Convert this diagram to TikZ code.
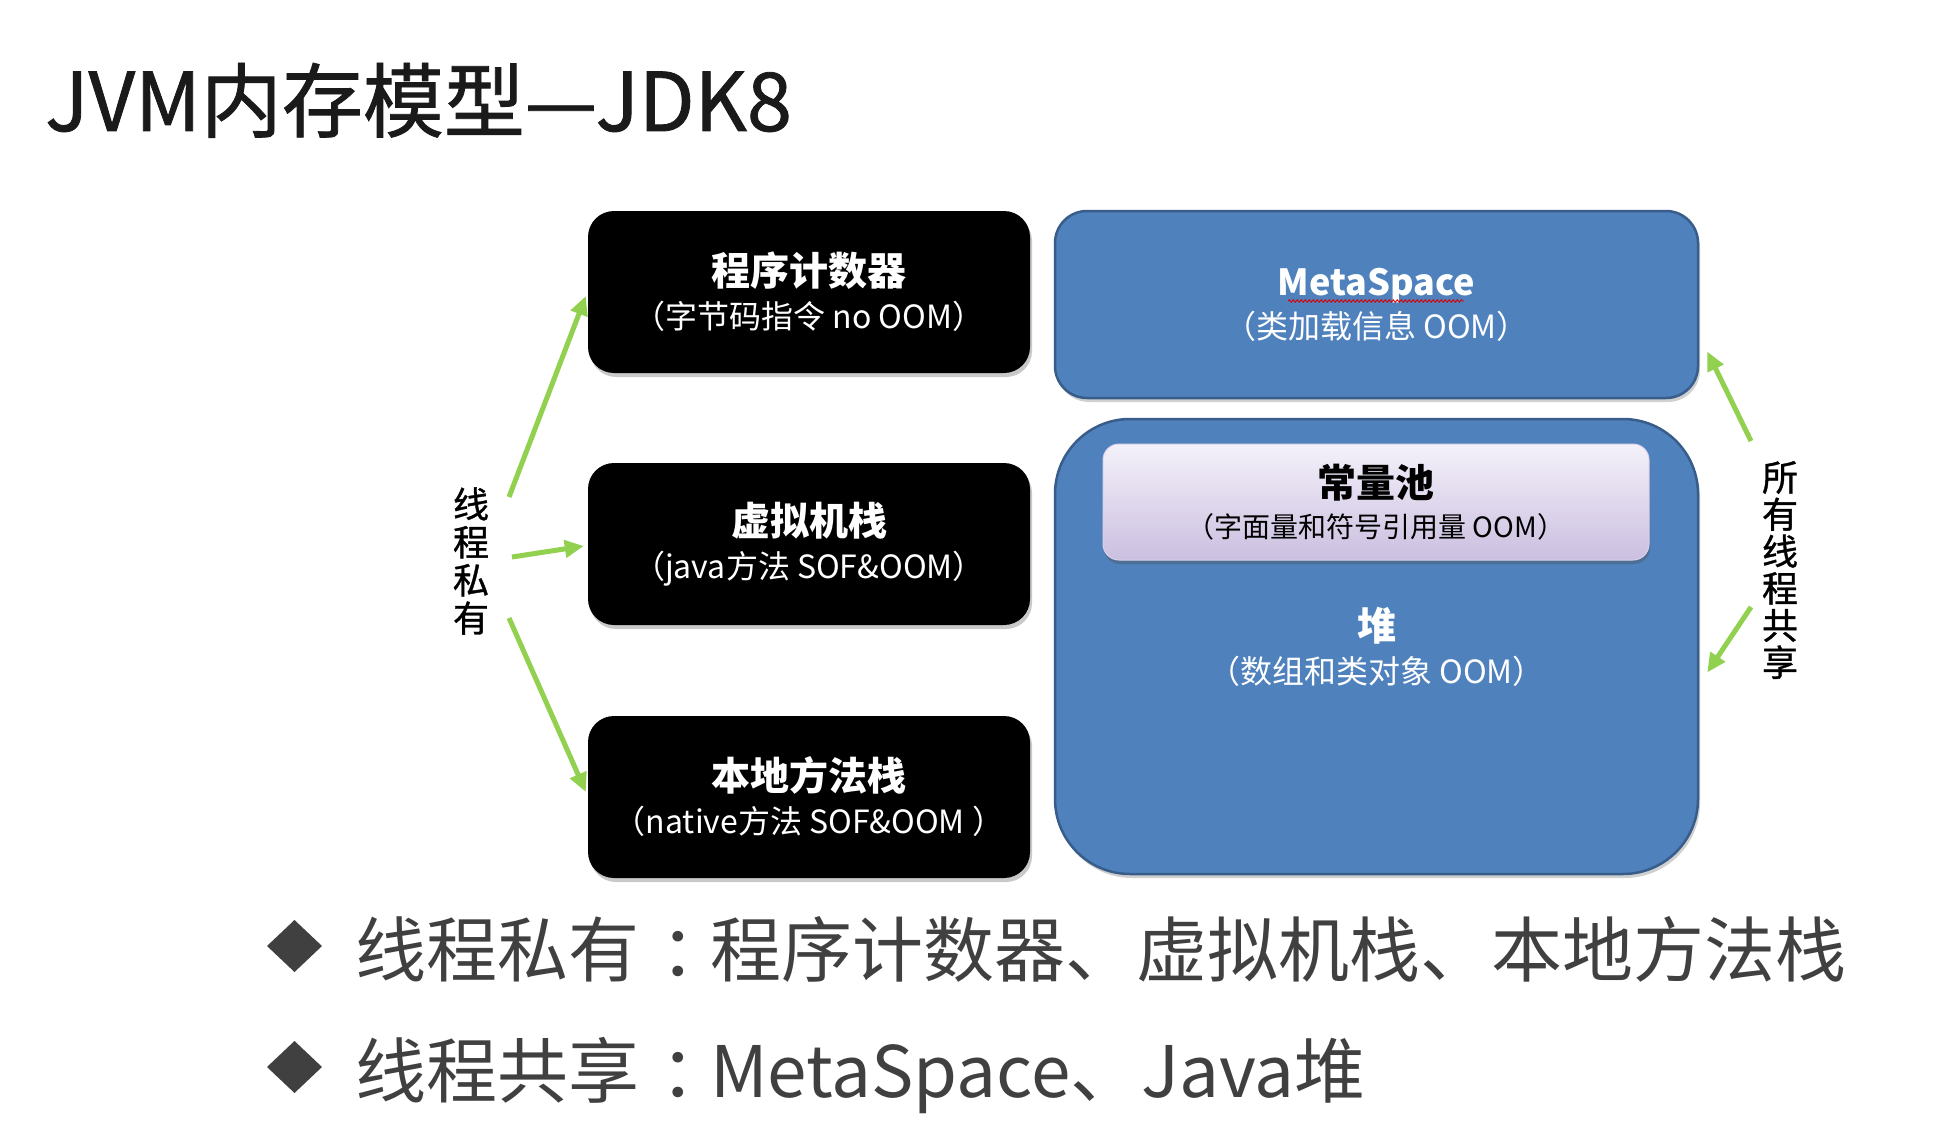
\documentclass[tikz,border=0pt]{standalone}
\usepackage{fontspec}
\setmainfont{Noto Sans CJK SC}
\newfontfamily\medfont{Noto Sans CJK SC}[FakeBold=1]
\usetikzlibrary{arrows.meta,shadows,decorations.pathmorphing,calc}
\definecolor{ttl}{HTML}{1A1A1A}
\definecolor{bul}{HTML}{404040}
\definecolor{blu}{HTML}{4F81BD}
\definecolor{bluedge}{HTML}{385D8A}
\definecolor{grn}{HTML}{92D050}
\definecolor{lavtop}{HTML}{F4F1FA}
\definecolor{lavbot}{HTML}{CBBFE0}
\newcommand{\boxtitle}[1]{{\fontsize{39}{39}\selectfont\bfseries #1}}
\newcommand{\ccolon}{\hspace{0.3em}：\hspace{-0.3em}}
\begin{document}
\begin{tikzpicture}[x=1pt,y=-1pt,
  blackbox/.style={fill=black, rounded corners=26pt, minimum width=442pt, minimum height=162pt,
    text=white, align=center, inner sep=0pt, font=\fontsize{32}{43}\selectfont,
    drop shadow={shadow xshift=2pt,shadow yshift=-4pt,opacity=0.35,fill=black!60}},
  bluebox/.style={fill=blu, draw=bluedge, line width=2.5pt, minimum width=643pt,
    text=white, align=center, inner sep=0pt, font=\fontsize{32}{43}\selectfont,
    drop shadow={shadow xshift=2pt,shadow yshift=-4pt,opacity=0.3,fill=black!60}},
  poolbox/.style={top color=lavtop, bottom color=lavbot, draw=lavbot!70!white, line width=1pt,
    rounded corners=16pt, minimum width=546pt, minimum height=116pt, align=center, inner sep=0pt,
    text=black, font=\fontsize{28}{40}\selectfont,
    drop shadow={shadow xshift=1pt,shadow yshift=-4pt,opacity=0.35,fill=black!70}},
  vlabel/.style={align=center, inner sep=0pt, text=black, font=\medfont\fontsize{36}{38}\selectfont},
  garrow/.style={draw=grn, line width=5pt, -{Triangle[length=19pt,width=17pt]}},
  bullettext/.style={anchor=base west, inner sep=0pt, text=bul, font=\fontsize{71}{71}\selectfont}
]
\useasboundingbox (0,0) rectangle (1950,1134);
\fill[white] (0,0) rectangle (1950,1134);

% title
\node[anchor=base west, inner sep=0pt, text=ttl, font=\medfont\fontsize{81}{81}\selectfont] (title) at (45,131) {JVM内存模型—JDK8};

% thread-private boxes
\node[blackbox] (pc) at (809,292) {\boxtitle{程序计数器}\\（字节码指令 no OOM）};
\node[blackbox] (vms) at (809,544) {\boxtitle{虚拟机栈}\\（java方法 SOF\&OOM）};
\node[blackbox] (nms) at (809,797) {\boxtitle{本地方法栈}\\（native方法 SOF\&OOM ）};

% shared areas
\node[bluebox, rounded corners=32pt, minimum height=187pt] (meta) at (1376.5,304.5)
  {{\fontsize{36}{36}\selectfont\bfseries MetaSpace}\\（类加载信息 OOM）};
\draw[red!85!black, line width=0.9pt, decorate, decoration={snake, amplitude=1.2pt, segment length=4pt}]
  (1288,301) -- (1464,301);
\node[bluebox, rounded corners=75pt, minimum height=455pt] (heap) at (1376.5,646.5)
  {\boxtitle{堆}\\（数组和类对象 OOM）};
\node[poolbox] (pool) at (1376,502) {\boxtitle{常量池}\\（字面量和符号引用量 OOM）};

% side labels
\node[vlabel] (priv) at (471,561) {线\\程\\私\\有};
\node[vlabel, font=\medfont\fontsize{36}{37}\selectfont] (shared) at (1780,570) {所\\有\\线\\程\\共\\享};

% arrow start points near labels
\coordinate (p1) at (509,497);
\coordinate (p2) at (512,557);
\coordinate (p3) at (509,618);
\coordinate (s1) at (1751,441);
\coordinate (s2) at (1751,607);
\coordinate (m1) at ($(meta.east)+(8,47)$);
\coordinate (h1) at ($(heap.east)+(8,26)$);

\draw[garrow] (p1) -- ($(pc.west)+(-2,4)$);
\draw[garrow] (p2) -- ($(vms.west)+(-4,2)$);
\draw[garrow] (p3) -- ($(nms.west)+(-2,-5)$);
\draw[garrow] (s1) -- (m1);
\draw[garrow] (s2) -- (h1);

% bullets
\fill[bul] (267,946) -- (294.5,920) -- (322,946) -- (294.5,972) -- cycle;
\fill[bul] (267,1067) -- (294.5,1041) -- (322,1067) -- (294.5,1093) -- cycle;
\node[bullettext] (b1) at (355,976) {线程私有\ccolon 程序计数器、虚拟机栈、本地方法栈};
\node[bullettext] (b2) at (355,1097) {线程共享\ccolon MetaSpace、Java堆};
\end{tikzpicture}
\end{document}
